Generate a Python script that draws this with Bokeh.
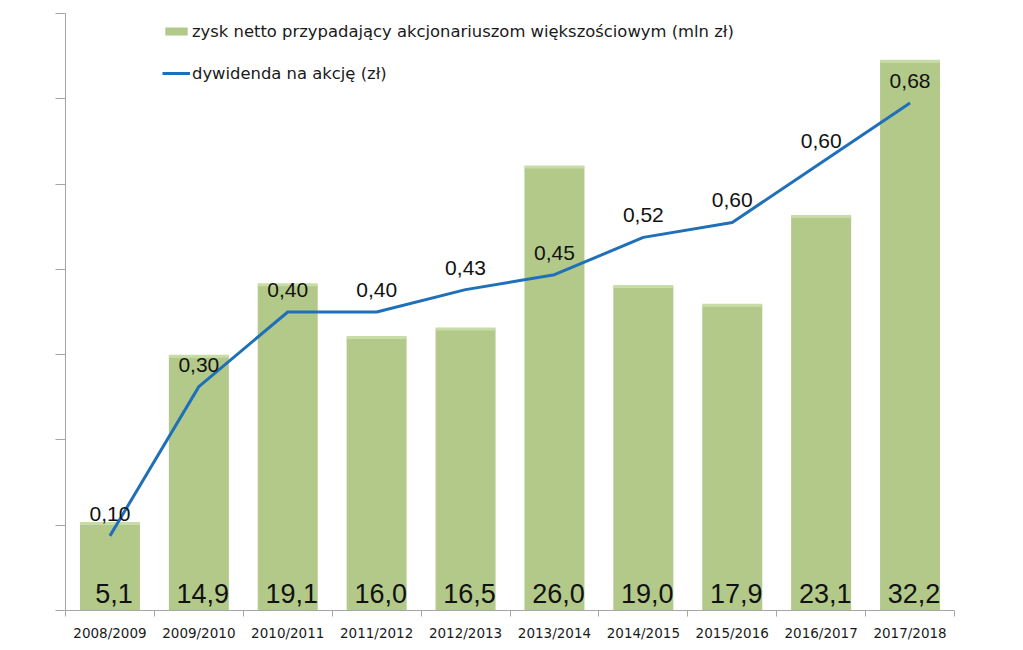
from bokeh.plotting import figure
from bokeh.models import Range1d, FixedTicker, Legend, LegendItem, ColumnDataSource
from bokeh.core.properties import value
from bokeh.embed import file_html
from bokeh.resources import INLINE

years = ["2008/2009", "2009/2010", "2010/2011", "2011/2012", "2012/2013",
         "2013/2014", "2014/2015", "2015/2016", "2016/2017", "2017/2018"]
profit = [5.1, 14.9, 19.1, 16.0, 16.5, 26.0, 19.0, 17.9, 23.1, 32.2]
profit_labels = ["5,1", "14,9", "19,1", "16,0", "16,5", "26,0", "19,0", "17,9", "23,1", "32,2"]
dividend = [0.10, 0.30, 0.40, 0.40, 0.43, 0.45, 0.50, 0.52, 0.60, 0.68]
dividend_labels = ["0,10", "0,30", "0,40", "0,40", "0,43", "0,45", "0,52", "0,60", "0,60", "0,68"]
y_ticks = [0, 5, 10, 15, 20, 25, 30, 35]
legend_profit = "zysk netto przypadający akcjonariuszom większościowym (mln zł)"
legend_dividend = "dywidenda na akcję (zł)"

n = len(years)
xs = [i + 0.5 for i in range(n)]
src = ColumnDataSource(dict(x=xs, profit=profit, plab=profit_labels,
                            div=dividend, dlab=dividend_labels,
                            base=[0] * n))

p = figure(frame_width=889, frame_height=597, min_border_left=65, min_border_right=50,
           min_border_top=13, min_border_bottom=32,
           x_range=Range1d(0, n), y_range=Range1d(0, 35),
           output_backend="svg", toolbar_location=None, tools="")
p.extra_y_ranges = {"div": Range1d(0, 0.8)}

p.outline_line_color = None
p.xgrid.visible = False
p.ygrid.visible = False
p.background_fill_color = "white"
p.border_fill_color = "white"

bars = p.vbar(x="x", top="profit", width=0.675, source=src,
              fill_color="#b2c98a", line_color=None)
p.segment(x0=[x - 0.3375 for x in xs], x1=[x + 0.3375 for x in xs],
          y0=profit, y1=profit, line_color="#c7dca6", line_width=3)

line = p.line(x="x", y="div", source=src, y_range_name="div",
              line_color="#1f70b8", line_width=3)

p.text(x="x", y="base", text="plab", source=src, text_align="center",
       text_baseline="alphabetic", x_offset=4, y_offset=-17,
       text_font=value("Liberation Sans"), text_font_size="27px", text_color="#111111")
p.text(x="x", y="div", text="dlab", source=src, y_range_name="div", text_align="center",
       text_baseline="alphabetic", y_offset=-22,
       text_font=value("Liberation Sans"), text_font_size="21px", text_color="#111111")

# axes
xa = p.xaxis[0]
xa.ticker = FixedTicker(ticks=xs, minor_ticks=list(range(n + 1)))
xa.major_label_overrides = {x: y for x, y in zip(xs, years)}
xa.major_tick_out = 0
xa.major_tick_in = 0
xa.minor_tick_out = 6
xa.minor_tick_in = 0
xa.minor_tick_line_color = "#a6a6a6"
xa.axis_line_color = "#a6a6a6"
xa.major_label_standoff = 8
xa.major_label_text_font = "DejaVu Sans"
xa.major_label_text_font_size = "13.5px"
xa.major_label_text_color = "#1a1a1a"

ya = p.yaxis[0]
ya.ticker = FixedTicker(ticks=y_ticks)
ya.major_tick_out = 10
ya.major_tick_in = 0
ya.minor_tick_out = 0
ya.minor_tick_in = 0
ya.major_tick_line_color = "#a6a6a6"
ya.axis_line_color = "#a6a6a6"
ya.major_label_text_color = None
ya.major_label_text_font_size = "1px"

legend = Legend(items=[LegendItem(label=legend_profit, renderers=[bars]),
                       LegendItem(label=legend_dividend, renderers=[line])],
                location=(97, 527), padding=0, margin=0, spacing=22,
                label_height=20, glyph_height=10, glyph_width=28, label_standoff=2,
                background_fill_alpha=0, border_line_color=None,
                label_text_font="DejaVu Sans", label_text_font_size="16.4px",
                label_text_color="#1a1a1a")
p.add_layout(legend, "center")

open("out.html", "w").write(file_html(p, INLINE))
